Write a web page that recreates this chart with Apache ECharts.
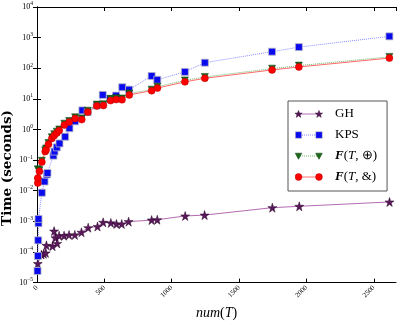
<!DOCTYPE html>
<html>
<head>
<meta charset="utf-8">
<script src="https://cdn.jsdelivr.net/npm/echarts@6/dist/echarts.min.js"></script>
<style>
html,body{margin:0;padding:0;background:#fff;}
#chart{width:400px;height:325px;}
</style>
</head>
<body>
<div id="chart"></div>
<script>
// GH
const ghNum = [6, 33, 50, 65, 70, 115, 127, 137, 150, 164, 201, 238, 281, 330, 380, 449, 491, 548, 590, 629, 680, 851, 893, 1100, 1244, 1747, 1947, 2617];
const ghTime = [4.2e-5, 8.2e-5, 8.7e-5, 9.3e-5, 1.65e-4, 1.55e-4, 4.8e-4, 2.9e-4, 1.9e-4, 3.4e-4, 3.4e-4, 3.6e-4, 3.6e-4, 4.4e-4, 6.2e-4, 6.8e-4, 9.3e-4, 8.9e-4, 8.2e-4, 8.2e-4, 9.8e-4, 1.1e-3, 1.13e-3, 1.5e-3, 1.6e-3, 2.8e-3, 3.1e-3, 4.3e-3];
// KPS
const kpsNum = [4, 7, 9, 11, 11, 36, 56, 73, 78, 122, 130, 147, 167, 209, 241, 283, 337, 376, 444, 488, 542, 587, 633, 683, 851, 893, 1098, 1246, 1745, 1944, 2616];
const kpsTime = [2.4e-5, 7.4e-5, 2.4e-4, 8.7e-4, 1.2e-3, 8.6e-3, 2.0e-2, 3.4e-2, 3.8e-2, 0.14, 0.19, 0.26, 0.35, 0.58, 1.1, 1.85, 4.2, 3.7, 6.1, 13.5, 10, 12.8, 24, 20, 56, 42, 76, 152, 347, 490, 1100];
// F(T,⊕) et F(T,&)
const fNum = [6, 6, 18, 36, 61, 68, 85, 110, 128, 147, 165, 203, 239, 283, 332, 377, 444, 493, 546, 587, 631, 685, 851, 894, 1098, 1246, 1745, 1944, 2616];
const fOplusTime = [0.02, 0.05, 0.047, 0.095, 0.21, 0.24, 0.36, 0.56, 0.7, 0.85, 1.0, 1.55, 1.9, 2.5, 2.3, 4.1, 6.5, 6.7, 10, 10.5, 10.3, 15, 20, 25, 40, 52, 97, 122, 235];
const fAndTime = [0.018, 0.026, 0.043, 0.087, 0.19, 0.22, 0.33, 0.51, 0.64, 0.77, 0.93, 1.4, 1.75, 2.3, 2.1, 3.7, 5.9, 6.1, 8.8, 9.5, 9.4, 13.5, 18.5, 22.5, 36, 47, 88, 110, 215];

const xTicks = [0, 500, 1000, 1500, 2000, 2500];
const serif = 'Liberation Serif';

const starPath = 'path://M50,0 L61,35 L98,35 L68,57 L79,91 L50,70 L21,91 L32,57 L2,35 L39,35 Z';

//图例图标:两端各一个标记
function starPts(cx, cy, r){
    const p = [];
    for(let k=0;k<10;k++){
        const a = -Math.PI/2 + k*Math.PI/5;
        const rr = k%2==0 ? r : r*0.4;
        p.push((cx+rr*Math.cos(a)).toFixed(2)+','+(cy+rr*Math.sin(a)).toFixed(2));
    }
    return p.join(' ');
}
function icon(lineSvg, mk){
    const svg = "<svg xmlns='http://www.w3.org/2000/svg' width='35' height='8' viewBox='0 0 35 8'>"
        + lineSvg + mk(3.5) + mk(24) + "</svg>";
    return 'image://data:image/svg+xml;charset=utf-8,' + encodeURIComponent(svg);
}
const ghIcon = icon("<line x1='3' y1='4' x2='24' y2='4' stroke='#b46cb4' stroke-width='1'/>",
    x => "<polygon points='"+starPts(x,4.3,3.8)+"' fill='#5a1a5a' stroke='#2a002a' stroke-width='0.5'/>");
const kpsIcon = icon("<line x1='3' y1='4' x2='24' y2='4' stroke='#8a8aff' stroke-width='1' stroke-dasharray='1,1'/>",
    x => "<rect x='"+(x-3.2)+"' y='0.8' width='6.4' height='6.4' fill='#0a0aee' stroke='#b8b8c8' stroke-width='0.6'/>");
const opIcon = icon("<line x1='3' y1='4' x2='24' y2='4' stroke='#6cb86c' stroke-width='1' stroke-dasharray='1,1'/>",
    x => "<polygon points='"+(x-3.3)+",1.2 "+(x+3.3)+",1.2 "+x+",7.3' fill='#1d6a1d' stroke='#0a3a0a' stroke-width='0.5'/>");
const andIcon = icon("<line x1='3' y1='4' x2='24' y2='4' stroke='#ff7070' stroke-width='1'/>",
    x => "<circle cx='"+x+"' cy='4' r='3.4' fill='#ff0000' stroke='#b00000' stroke-width='0.5'/>");

const legendText = {
    'GH':'{n|GH}',
    'KPS':'{n|KPS}',
    'Fop':'{b|F}{n|(}{i|T}{n|, ⊕)}',
    'Fand':'{b|F}{n|(}{i|T}{n|, &)}'
};

const myChart = echarts.init(document.getElementById('chart'));

const option = {
    animation:false,
    backgroundColor:'#ffffff',
    grid:{left:37, right:4, top:7, bottom:39},
    legend:{
        orient:'vertical',
        left:288, top:101,
        padding:[6,10,7,7],
        itemGap:7,
        itemWidth:35, itemHeight:8,
        borderColor:'#555', borderWidth:1,
        backgroundColor:'#fff',
        data:[
            {name:'GH', icon:ghIcon},
            {name:'KPS', icon:kpsIcon},
            {name:'Fop', icon:opIcon},
            {name:'Fand', icon:andIcon}
        ],
        formatter:(name)=>legendText[name],
        textStyle:{
            fontFamily:serif, fontSize:13, color:'#000', lineHeight:14,
            rich:{
                n:{fontFamily:serif, fontSize:13, color:'#000'},
                i:{fontFamily:serif, fontSize:13, fontStyle:'italic', color:'#000'},
                b:{fontFamily:serif, fontSize:13, fontStyle:'italic', fontWeight:'bold', color:'#000'}
            }
        }
    },
    graphic:[
        {
            type:'text', x:7, y:168, rotation:Math.PI/2,
            style:{text:'Time (seconds)', font:'bold 13.5px "DejaVu Serif"', fill:'#000', align:'center', verticalAlign:'middle'}
        }
    ],
    xAxis:[
        {
            type:'value', min:0, max:2665, interval:500,
            name:'{i|num}{n|(}{i|T}{n|)}',
            nameLocation:'middle', nameGap:12,
            nameTextStyle:{
                rich:{
                    n:{fontFamily:serif, fontSize:14, color:'#000'},
                    i:{fontFamily:serif, fontSize:14, fontStyle:'italic', color:'#000'}
                }
            },
            axisLine:{lineStyle:{color:'#000', width:1}},
            axisTick:{inside:true, length:4, lineStyle:{color:'#000'}},
            axisLabel:{
                rotate:45, fontFamily:serif, fontSize:7, color:'#000', margin:4,
                showMaxLabel:false,
                formatter:(v)=>xTicks.includes(v)?String(v):''
            },
            splitLine:{show:false}
        },
        {
            type:'value', min:0, max:2665, interval:500, position:'top',
            axisLine:{lineStyle:{color:'#000', width:1}},
            axisTick:{inside:true, length:4, lineStyle:{color:'#000'}},
            axisLabel:{show:false},
            splitLine:{show:false}
        }
    ],
    yAxis:[
        {
            type:'log', logBase:10, min:1e-5, max:1e4, splitNumber:9,
            axisLine:{lineStyle:{color:'#000', width:1}},
            axisTick:{inside:true, length:4, lineStyle:{color:'#000'}},
            axisLabel:{
                margin:4,
                formatter:(v)=>{
                    const e = Math.round(Math.log10(v));
                    return '{b|10}{s|'+(e<0?'\u2212'+(-e):e)+'}';
                },
                rich:{
                    b:{fontFamily:serif, fontSize:8, color:'#000'},
                    s:{fontFamily:serif, fontSize:5.5, color:'#000', padding:[0,0,6,0]}
                }
            },
            splitLine:{show:false}
        },
        {
            type:'log', logBase:10, min:1e-5, max:1e4, splitNumber:9, position:'right',
            axisLine:{lineStyle:{color:'#000', width:1}},
            axisTick:{inside:true, length:4, lineStyle:{color:'#000'}},
            axisLabel:{show:false},
            splitLine:{show:false}
        }
    ],
    series:[
        {
            name:'GH', type:'line',
            data:ghNum.map((n,i)=>[n, ghTime[i]]),
            symbol:starPath, symbolSize:9,
            lineStyle:{color:'#b46cb4', width:1},
            itemStyle:{color:'#5a1a5a', borderColor:'#2a002a', borderWidth:0.5}
        },
        {
            name:'KPS', type:'line',
            data:kpsNum.map((n,i)=>[n, kpsTime[i]]),
            symbol:'rect', symbolSize:7,
            lineStyle:{color:'#8a8aff', width:1, type:'dotted'},
            itemStyle:{color:'#0a0aee', borderColor:'#b8b8c8', borderWidth:0.8}
        },
        {
            name:'Fop', type:'line',
            data:fNum.map((n,i)=>[n, fOplusTime[i]]),
            symbol:'triangle', symbolRotate:180, symbolSize:7,
            lineStyle:{color:'#6cb86c', width:1, type:'dotted'},
            itemStyle:{color:'#1d6a1d', borderColor:'#0a3a0a', borderWidth:0.5}
        },
        {
            name:'Fand', type:'line',
            data:fNum.map((n,i)=>[n, fAndTime[i]]),
            symbol:'circle', symbolSize:7,
            lineStyle:{color:'#ff6a6a', width:1},
            itemStyle:{color:'#ff0000', borderColor:'#b00000', borderWidth:0.5}
        }
    ]
};
myChart.setOption(option);
</script>
</body>
</html>
